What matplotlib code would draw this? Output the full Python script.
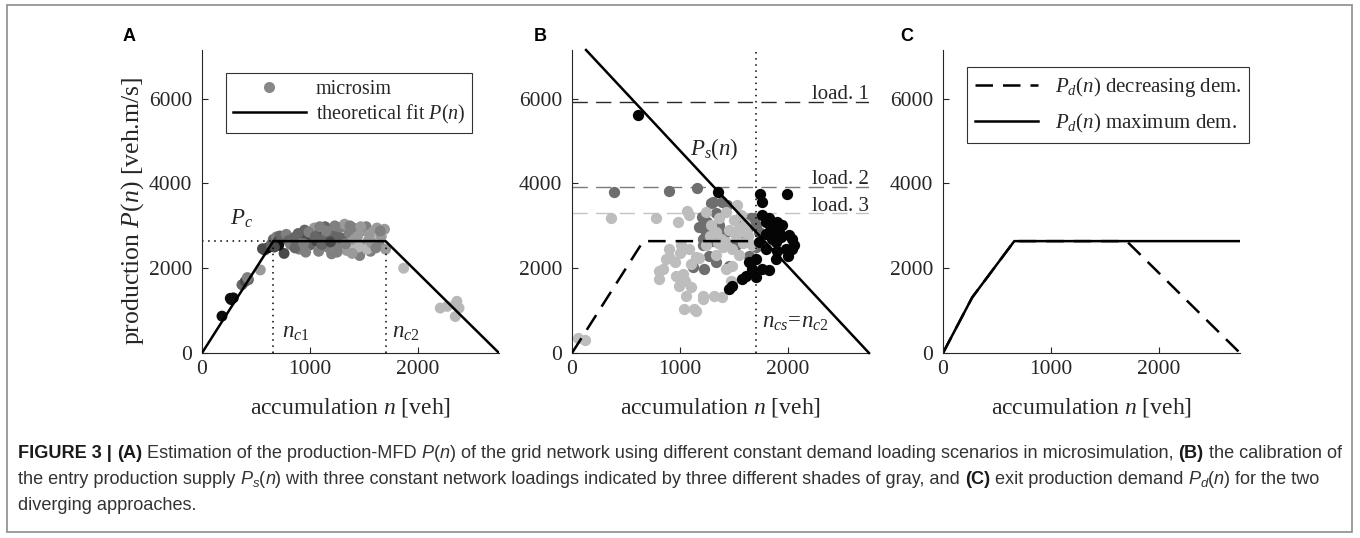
import matplotlib
matplotlib.use('Agg')
import matplotlib.pyplot as plt
from matplotlib.lines import Line2D
from matplotlib.patches import Rectangle

# fonts: Times-like for the plots, Helvetica-like for the caption
plt.rcParams['font.family'] = ['Liberation Serif', 'DejaVu Serif']
plt.rcParams['mathtext.fontset'] = 'custom'
plt.rcParams['mathtext.rm'] = 'Liberation Serif'
plt.rcParams['mathtext.it'] = 'Liberation Serif:italic'
plt.rcParams['mathtext.bf'] = 'Liberation Serif:bold'

W, H = 1360, 538
TXT = '#262626'

# ---------------- data ----------------
x_ticks = [0, 1000, 2000]
y_ticks = [0, 2000, 4000, 6000]
n_max = 2750
p_max = 7150

# critical values
n_c1 = 660
n_c2 = 1700
p_c = 2640

# panel A: theoretical fit
fit_n = [0, 660, 1700, 2750]
fit_p = [0, 2640, 2640, 0]

# panel A: microsim points (n, P, shade index)
a_n = [185, 262, 290, 270, 370, 400, 430, 420, 540,
       580, 610, 560, 640, 660, 690, 720, 700, 760, 740,
       780, 800, 820, 850, 880, 900, 920, 950, 970, 1000, 1020, 1040, 1060, 1080, 1100,
       1120, 1140, 1160, 1180, 1200, 1220, 1240, 1260, 1280, 1300, 1320, 1340, 1360,
       1380, 1400, 1420, 1440, 1460, 1480, 1500, 1520, 1540, 1560, 1580, 1600, 1620,
       1640, 1660, 1690, 1700,
       860, 940, 990, 1050, 1110, 1150, 1190, 1230, 1270, 1330, 1370, 1410, 1450, 1470,
       1530, 1570, 1610, 1650, 710, 670, 890, 1090, 1250, 1390, 1550, 960,
       1867, 2206, 2270, 2345, 2360, 2345, 2380]
a_p = [870, 1290, 1300, 1260, 1610, 1690, 1730, 1780, 1960,
       2430, 2480, 2460, 2560, 2680, 2740, 2760, 2620, 2350, 2700,
       2800, 2650, 2560, 2720, 2600, 2450, 2780, 2900, 2700, 2550, 2820, 2950, 2640, 2400, 2880,
       2700, 2980, 2500, 2780, 2340, 2620, 2850, 2500, 2960, 2700, 3040, 2420, 2820,
       2600, 2950, 2450, 2750, 2300, 2880, 2550, 2980, 2650, 2400, 2850, 2700, 2950,
       2550, 2750, 2920, 2450,
       2480, 2580, 2850, 2750, 2560, 2880, 2620, 3000, 2720, 2580, 3000, 2680, 2500, 2980,
       2450, 2600, 2480, 2880, 2540, 2500, 2820, 2980, 2380, 2350, 2800, 2380,
       2000, 1060, 1100, 1140, 1220, 860, 1060]
a_shade = [0, 0, 0, 0, 2, 1, 2, 3, 4,
           1, 0, 1, 2, 2, 3, 2, 1, 1, 2,
           3, 2, 3, 2, 2, 3, 3, 2, 1, 2, 2, 4, 1, 3, 1,
           2, 2, 3, 2, 3, 2, 2, 3, 3, 1, 4, 4, 3,
           5, 3, 5, 4, 3, 4, 4, 3, 4, 3, 4, 5, 4,
           3, 4, 4, 4,
           2, 3, 3, 2, 2, 3, 1, 3, 2, 3, 3, 4, 5, 4,
           5, 4, 3, 3, 0, 1, 2, 3, 3, 4, 4, 3,
           5, 5, 5, 5, 5, 5, 5]
shade_colors = ['#0d0d0d', '#4a4a4a', '#666666', '#808080', '#9a9a9a', '#b8b8b8']

# panel B: three loadings
load_levels = [5930, 3920, 3300]
load_labels = ['load. 1', 'load. 2', 'load. 3']
load_colors = ['#2a2a2a', '#7a7a7a', '#c4c4c4']

b1_n = [609, 1356, 1741, 1990, 1762, 1793, 1855, 1916, 2008, 1885, 1978, 2039, 1885, 1793,
        1732, 1762, 1670, 1609, 1578, 1485, 1455, 1701, 1932, 1824, 1762, 2039, 1824, 1947,
        1824, 1850, 1800, 2060, 2000, 1900, 1700, 1640, 1900]
b1_p = [5620, 3790, 3745, 3745, 3253, 3095, 2936, 2857, 2776, 2619, 2460, 2698, 2222, 2460,
        2619, 1984, 1984, 1825, 1746, 1587, 1508, 2222, 2738, 3174, 3571, 2460, 2857, 3015,
        1960, 2700, 2800, 2550, 2300, 2400, 1800, 2150, 3100]

b2_n = [388, 895, 1157, 1307, 1439, 1240, 1209, 1270, 1116, 1224, 1332, 1362, 1424, 1547,
        1624, 1686, 1732, 1516, 1639, 1455, 1178, 1240, 1209, 1286, 1393, 1701, 1655, 1300,
        1350, 1250, 1600, 1700, 1200, 1330]
b2_p = [3810, 3833, 3905, 3571, 3491, 2776, 2539, 2300, 2024, 1984, 2143, 3015, 2857, 3095,
        2936, 3174, 2857, 2539, 2300, 2063, 2976, 2857, 2698, 3531, 3571, 3015, 3174, 2650,
        2900, 3100, 2650, 2500, 3200, 3300]

b3_n = [55, 117, 363, 779, 978, 1067, 1086, 871, 901, 1009, 840, 809, 809, 963, 993, 1024,
        1101, 1055, 1040, 1132, 1147, 1209, 1209, 1316, 1393, 901, 1085, 1147, 1240, 1286,
        1332, 1362, 1424, 1531, 1562, 1424, 1485, 1547, 1485, 1424, 1470, 1609, 1670, 1332,
        1240, 1485, 1380, 1450, 1520, 1580, 1600, 1500, 1400, 1550, 1630, 1350, 1280, 1180,
        1100, 950, 1050, 1000]
b3_p = [357, 317, 3180, 3174, 3100, 3340, 3253, 2221, 2262, 2539, 1984, 1943, 1745, 1824,
        1586, 1865, 1548, 1348, 1031, 1031, 990, 1348, 1269, 1348, 1310, 2460, 2460, 2262,
        2539, 3015, 2857, 3174, 3333, 3491, 3253, 2619, 2460, 2301, 2063, 1984, 1705, 2857,
        2539, 2301, 3333, 1667, 2700, 2900, 2750, 2600, 3050, 3150, 2500, 2950, 2750, 2600,
        2750, 2250, 2100, 2150, 1700, 2350]

# panel B: entry supply P_s(n) and demand
ps_n = [130, 2750]
ps_p = [7150, 0]
dem_n = [0, 660, 1700]
dem_p = [0, 2640, 2640]

# panel C: exit demand
cmax_n = [0, 270, 660, 2750]
cmax_p = [0, 1310, 2640, 2640]
cdec_n = [0, 270, 660, 1700, 2750]
cdec_p = [0, 1310, 2640, 2640, 0]


def px_rect(left, top, right, bottom):
    return [left / W, 1 - bottom / H, (right - left) / W, (bottom - top) / H]


def make_axes(fig, left):
    ax = fig.add_axes(px_rect(left, 50, left + 297, 353))
    ax.set_xlim(0, n_max)
    ax.set_ylim(0, p_max)
    ax.spines[['top', 'right']].set_visible(False)
    for s in ['left', 'bottom']:
        ax.spines[s].set_color(TXT)
        ax.spines[s].set_linewidth(0.8)
    ax.set_xticks(x_ticks)
    ax.set_yticks(y_ticks)
    ax.tick_params(direction='in', length=4, width=0.8, colors=TXT, labelsize=15.5)
    ax.tick_params(axis='x', pad=5)
    ax.tick_params(axis='y', pad=7)
    ax.set_xlabel('accumulation $n$ [veh]', fontsize=17, color=TXT)
    ax.xaxis.set_label_coords(0.5, -0.142)
    return ax


fig = plt.figure(figsize=(W / 100, H / 100), dpi=100)

# ---------------- panel A ----------------
axA = make_axes(fig, 202)
axA.scatter(a_n, a_p, s=62, c=[shade_colors[k] for k in a_shade], linewidths=0, zorder=2)
axA.plot(fit_n, fit_p, color='black', lw=1.8, zorder=3)
axA.plot([0, n_c1], [p_c, p_c], color='black', lw=1.1, ls=(0, (1, 3)))
axA.plot([n_c1, n_c1], [0, p_c], color='black', lw=1.1, ls=(0, (1, 3)))
axA.plot([n_c2, n_c2], [0, p_c], color='black', lw=1.1, ls=(0, (1, 3)))
axA.text(262, 3020, '$P_c$', fontsize=16.5, color=TXT)
axA.text(740, 360, '$n_{c1}$', fontsize=16.5, color=TXT)
axA.text(1760, 360, '$n_{c2}$', fontsize=16.5, color=TXT)
axA.set_ylabel('production $P(n)$ [veh.m/s]', fontsize=18.5, color=TXT)
axA.yaxis.set_label_coords(-0.19, 0.47)
hA = [Line2D([], [], ls='none', marker='o', ms=8, color='#888888', mec='none'),
      Line2D([], [], color='black', lw=1.8)]
legA = axA.legend(hA, ['microsim', 'theoretical fit $P(n)$'], loc='upper left',
                  bbox_to_anchor=(0.081, 0.925), fontsize=14.5, frameon=True, fancybox=False,
                  edgecolor='#333333', framealpha=1, handlelength=3.6, handletextpad=0.5,
                  borderpad=0.35, labelspacing=0.2, borderaxespad=0)
legA.get_frame().set_linewidth(0.8)
for t in legA.get_texts():
    t.set_color(TXT)
legA.set_zorder(5)

# ---------------- panel B ----------------
axB = make_axes(fig, 572)
for lev, lab, col in zip(load_levels, load_labels, load_colors):
    axB.plot([0, n_max], [lev, lev], color=col, lw=1.0, ls=(0, (11, 6)), zorder=1)
    axB.text(n_max, lev + 60, lab, fontsize=15, color=TXT, ha='right', va='baseline')
axB.scatter(b2_n, b2_p, s=66, c='#6e6e6e', linewidths=0, zorder=2)
axB.scatter(b3_n, b3_p, s=66, c='#bdbdbd', linewidths=0, zorder=2)
axB.scatter(b1_n, b1_p, s=66, c='#050505', linewidths=0, zorder=2)
axB.plot([n_c2, n_c2], [0, p_max], color='black', lw=1.1, ls=(0, (1, 3)), zorder=3)
axB.plot(dem_n, dem_p, color='black', lw=1.8, ls=(0, (7, 4)), zorder=3)
axB.plot(ps_n, ps_p, color='black', lw=1.8, zorder=3, clip_on=False)
axB.text(1090, 4670, '$P_s(n)$', fontsize=16.5, color=TXT)
axB.text(1762, 590, '$n_{cs}\\!=\\!n_{c2}$', fontsize=16.5, color=TXT)

# ---------------- panel C ----------------
axC = make_axes(fig, 943)
axC.plot(cdec_n, cdec_p, color='black', lw=1.8, ls=(0, (7, 4)))
axC.plot(cmax_n, cmax_p, color='black', lw=1.8)
hC = [Line2D([], [], color='black', lw=1.8, ls=(0, (7, 4))),
      Line2D([], [], color='black', lw=1.8)]
legC = axC.legend(hC, ['$P_d(n)$ decreasing dem.', '$P_d(n)$ maximum dem.'], loc='upper left',
                  bbox_to_anchor=(0.081, 0.945), fontsize=15, frameon=True, fancybox=False,
                  edgecolor='#333333', framealpha=1, handlelength=3.0, handletextpad=0.8,
                  borderpad=0.4, labelspacing=0.6, borderaxespad=0)
legC.get_frame().set_linewidth(0.8)
for t in legC.get_texts():
    t.set_color(TXT)

# panel letters
for lab, xp in zip(['A', 'B', 'C'], [129, 540, 907]):
    fig.text(xp / W, 1 - 37 / H, lab, fontsize=13, fontweight='bold', color='black',
             family=['Liberation Sans', 'DejaVu Sans'], ha='center', va='center')

# outer frame
fig.patches.append(Rectangle((7 / W, 1 - 532 / H), (1352 - 7) / W, (532 - 5) / H,
                             transform=fig.transFigure, fill=False, edgecolor='#8c8c8c', lw=1.2))

# ---------------- caption ----------------
renderer = fig.canvas.get_renderer()
cap_size = 13.1
styles = {'n': ('normal', 'normal', '#333333'), 'b': ('bold', 'normal', '#1a1a1a'),
          'i': ('normal', 'italic', '#333333'), 's': ('normal', 'italic', '#333333')}


def text_width(s, **kw):
    t = fig.text(0, 0, 'x' + s + 'x', **kw)
    w1 = t.get_window_extent(renderer).width
    t.set_text('xx')
    w0 = t.get_window_extent(renderer).width
    t.remove()
    return w1 - w0


def draw_runs(x_px, y_px, runs):
    x = x_px
    for s, st in runs:
        weight, style, col = styles[st]
        size = cap_size * 0.72 if st == 's' else cap_size
        dy = 3 if st == 's' else 0
        kw = dict(fontsize=size, fontweight=weight, fontstyle=style, color=col,
                  family=['Liberation Sans', 'DejaVu Sans'])
        fig.text(x / W, 1 - (y_px + dy) / H, s, va='baseline', ha='left', **kw)
        x += text_width(s, **kw)


cap1 = [('FIGURE 3 | ', 'b'), ('(A)', 'b'), (' Estimation of the production-MFD ', 'n'),
        ('P', 'i'), ('(', 'n'), ('n', 'i'),
        (') of the grid network using different constant demand loading scenarios in microsimulation, ', 'n'),
        ('(B)', 'b'), (' the calibration of', 'n')]
cap2 = [('the entry production supply ', 'n'), ('P', 'i'), ('s', 's'), ('(', 'n'), ('n', 'i'),
        (') with three constant network loadings indicated by three different shades of gray, and ', 'n'),
        ('(C)', 'b'), (' exit production demand ', 'n'), ('P', 'i'), ('d', 's'), ('(', 'n'),
        ('n', 'i'), (') for the two', 'n')]
cap3 = [('diverging approaches.', 'n')]
draw_runs(18, 458, cap1)
draw_runs(18, 484, cap2)
draw_runs(18, 510, cap3)

fig.savefig('out.png', dpi=100)
